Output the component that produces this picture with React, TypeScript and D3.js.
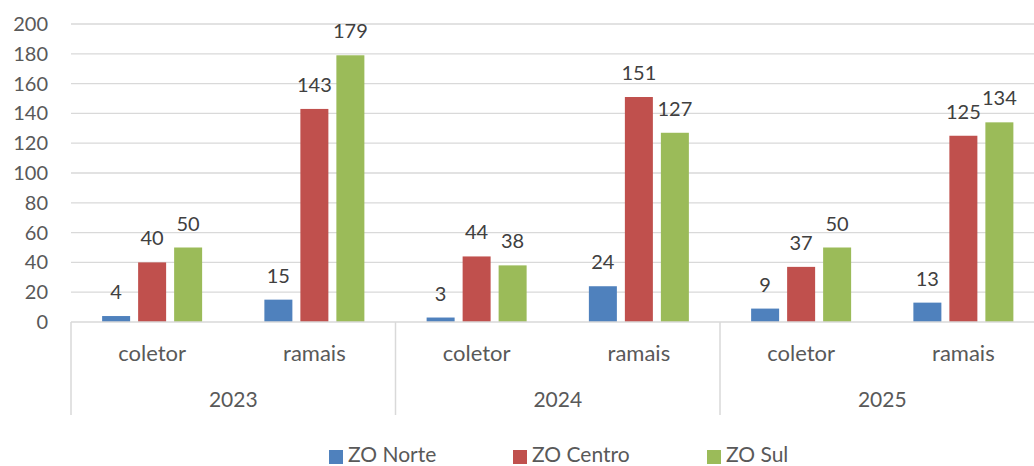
import React from 'react';
import * as d3 from 'd3';

const years = ['2023', '2024', '2025'];
const types = ['coletor', 'ramais'];
const series = ['ZO Norte', 'ZO Centro', 'ZO Sul'];
const colors = ['#4F81BD', '#C0504D', '#9BBB59'];

// values per series, in order: 2023 coletor, 2023 ramais, 2024 coletor, ...
const zoNorte = [4, 15, 3, 24, 9, 13];
const zoCentro = [40, 143, 44, 151, 37, 125];
const zoSul = [50, 179, 38, 127, 50, 134];
const yTicks = [0, 20, 40, 60, 80, 100, 120, 140, 160, 180, 200];

const W = 1034;
const H = 466;
const left = 71;
const right = 1044.5;
const top = 24;
const bottom = 322;
const font = 'Lato, "Open Sans", sans-serif';
const textColor = '#595959';

export default function App() {
  const cats = years.flatMap(y => types.map(t => `${y}|${t}`));
  const values = [zoNorte, zoCentro, zoSul];

  const x = d3.scaleBand().domain(cats).range([left, right]);
  const xs = d3.scaleBand().domain(series).range([-50, 50]).paddingInner(8 / 36);
  const y = d3.scaleLinear().domain([0, 200]).range([bottom, top]);
  const yearScale = d3.scaleBand().domain(years).range([left, right]);

  return (
    <svg width={W} height={H} style={{ display: 'block', position: 'absolute', left: 0, top: 0 }}>
      <rect width={W} height={H} fill="#fff" />
      {yTicks.map(t => (
        <g key={t}>
          {t > 0 && <line x1={left} x2={W} y1={y(t)} y2={y(t)} stroke="#D9D9D9" strokeWidth={1.3} />}
          <text x={48} y={y(t)} dy="0.35em" textAnchor="end" fontFamily={font} fontSize={20} fill={textColor}>{t}</text>
        </g>
      ))}
      {series.map((s, si) => (
        <g key={s}>
          {cats.map((c, ci) => {
            const v = values[si][ci];
            const bx = x(c)! + x.bandwidth() / 2 + xs(s)!;
            return (
              <g key={c}>
                <rect x={bx} y={y(v)} width={xs.bandwidth()} height={bottom - y(v)} fill={colors[si]} />
                <text x={bx + xs.bandwidth() / 2} y={y(v) - 17} textAnchor="middle" fontFamily={font} fontSize={20} fill="#404040">{v}</text>
              </g>
            );
          })}
        </g>
      ))}
      <line x1={left} x2={W} y1={bottom} y2={bottom} stroke="#D9D9D9" strokeWidth={1.5} />
      {years.map((yr, i) => (
        <line key={yr} x1={left + i * yearScale.bandwidth()} x2={left + i * yearScale.bandwidth()} y1={bottom} y2={415} stroke="#D9D9D9" strokeWidth={1.5} />
      ))}
      {cats.map(c => (
        <text key={c} x={x(c)! + x.bandwidth() / 2} y={353} dy="0.35em" textAnchor="middle" fontFamily={font} fontSize={22} fill={textColor}>{c.split('|')[1]}</text>
      ))}
      {years.map(yr => (
        <text key={yr} x={yearScale(yr)! + yearScale.bandwidth() / 2} y={400} dy="0.35em" textAnchor="middle" fontFamily={font} fontSize={21} fill={textColor}>{yr}</text>
      ))}
      {series.map((s, i) => {
        const lx = [329, 513, 707][i];
        return (
          <g key={s}>
            <rect x={lx} y={450} width={14} height={14} fill={colors[i]} />
            <text x={lx + 19} y={455} dy="0.35em" fontFamily={font} fontSize={21} fill={textColor}>{s}</text>
          </g>
        );
      })}
    </svg>
  );
}
